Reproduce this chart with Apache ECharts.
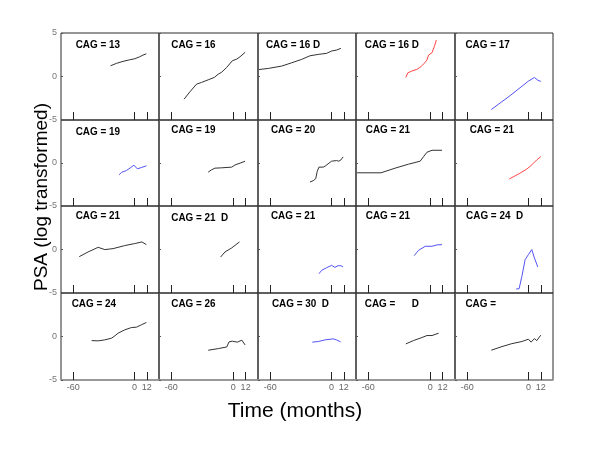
<!DOCTYPE html>
<html><head><meta charset="utf-8">
<script src="https://cdn.jsdelivr.net/npm/echarts@6/dist/echarts.min.js"></script>
<style>html,body{margin:0;padding:0;background:#fff}#c{width:600px;height:450px}</style>
</head><body><div id="c"></div>
<script>
// ---- data ----
const cagLabels = [
  'CAG = 13', 'CAG = 16', 'CAG = 16 D', 'CAG = 16 D', 'CAG = 17',
  'CAG = 19', 'CAG = 19', 'CAG = 20', 'CAG = 21', 'CAG = 21',
  'CAG = 21', 'CAG = 21  D', 'CAG = 21', 'CAG = 21', 'CAG = 24  D',
  'CAG = 24', 'CAG = 26', 'CAG = 30  D', 'CAG =      D', 'CAG ='
];
const xTicks = [-60, 0, 12];
const xRange = [-72, 24];
const yRange = [-5, 5];
const yStep = 5;

const p01 = [[-23.5,1.23],[-17.7,1.51],[-11.2,1.74],[-4.7,1.92],[0.2,2.04],[2.1,1.89],[5.1,2.27],[8.3,2.46],[11.6,2.61]];
const p02 = [[-47.7,-2.61],[-42.1,-1.77],[-35.6,-0.88],[-30.7,-0.68],[-24.3,-0.38],[-18.4,-0.11],[-14.5,0.27],[-11.2,0.5],[-6.3,1.05],[-0.9,1.81],[3.4,2.0],[6.6,2.27],[11.5,2.78]];
const p03 = [[-71,0.8],[-61.8,0.93],[-48.7,1.2],[-38.9,1.58],[-29.2,1.97],[-21.1,2.38],[-13,2.54],[-4.8,2.66],[0.1,2.93],[5,3.04],[9.2,3.24]];
const p04 = [[-23.7,-0.11],[-21.8,0.42],[-17.9,0.62],[-13,0.82],[-9.1,1.12],[-5.9,1.51],[-3.2,1.89],[-1.7,2.46],[1.7,2.73],[3.9,3.42],[5.9,4.19]];
const p05 = [[-36.5,-3.8],[-18,-2.2],[-0.1,-0.53],[5.8,-0.11],[9.1,-0.42],[12,-0.57]];
const p06 = [[-15.1,-1.37],[-12.8,-1.1],[-7.9,-0.87],[-3.7,-0.53],[-0.5,-0.25],[2.8,-0.68],[6.7,-0.53],[11.6,-0.33]];
const p07 = [[-24.3,-1.06],[-21,-0.79],[-17.8,-0.6],[-11.2,-0.56],[-1.5,-0.48],[1.8,-0.22],[6.6,-0.02],[11.5,0.21]];
const p08 = [[-21.1,-2.21],[-17.9,-2.06],[-15.5,-1.83],[-14,-0.99],[-12.3,-0.48],[-8.1,-0.48],[-5.8,-0.33],[-2.5,-0.02],[0.1,0.21],[5,0.28],[7.2,0.21],[9.2,0.36],[11.4,0.71]];
const p09 = [[-71,-1.14],[-47.8,-1.14],[-34.1,-0.6],[-21.2,-0.14],[-9.8,0.21],[-6.5,0.74],[-3.2,1.25],[1.7,1.48],[11.4,1.48]];
const p10 = [[-18.9,-1.86],[-9.9,-1.29],[-1.7,-0.71],[3.2,-0.22],[8.1,0.36],[12,0.74]];
const p11 = [[-54.1,-0.82],[-45.4,-0.28],[-35.6,0.25],[-29.1,-0.01],[-21,0.1],[-9.6,0.45],[0.2,0.68],[7.3,0.87],[11.6,0.56]];
const p12 = [[-12.2,-0.86],[-8,-0.28],[-1.5,0.18],[6,0.87]];
const p13 = [[-12.3,-2.78],[-9.7,-2.4],[-4.8,-2.09],[0.1,-1.82],[3.3,-2.05],[6.5,-1.86],[9.2,-1.86],[11.4,-2.01]];
const p14 = [[-15.6,-0.71],[-11.4,-0.1],[-4.9,0.37],[1.7,0.37],[6.5,0.53],[11.4,0.56]];
const p15 = [[-12.1,-4.54],[-9.2,-4.51],[-6.5,-3.09],[-3.3,-1.17],[-0.1,-0.59],[3.2,-0.01],[5.8,-0.97],[9.1,-2.01]];
const p16 = [[-42,-0.47],[-35.6,-0.5],[-29.1,-0.39],[-22.5,-0.19],[-19.3,0.07],[-16.1,0.38],[-9.6,0.76],[-3,1.03],[1.9,1.07],[6.7,1.34],[11.6,1.61]];
const p17 = [[-24.3,-1.58],[-14.5,-1.39],[-6.3,-1.2],[-4.1,-0.62],[-0.9,-0.54],[4,-0.65],[8.3,-0.42],[11.5,-0.97]];
const p18 = [[-18.8,-0.65],[-13,-0.58],[-6.4,-0.39],[1.7,-0.27],[5,-0.39],[8.9,-0.62]];
const p19 = [[-23.7,-0.85],[-16.3,-0.47],[-8.1,-0.12],[-3.2,0.11],[1.7,0.11],[8.1,0.38]];
const p20 = [[-36.5,-1.58],[-26,-1.16],[-16.3,-0.82],[-6.5,-0.58],[-0.1,-0.31],[2.5,-0.65],[5.8,-0.24],[8.1,-0.47],[12,0.15]];

const panelData = [p01,p02,p03,p04,p05,p06,p07,p08,p09,p10,p11,p12,p13,p14,p15,p16,p17,p18,p19,p20];

// ---- styles / layout ----
const K = '#333333', B = '#5252f7', R = '#ff4646';
const lineColors = [K,K,K,R,B, B,K,K,K,R, K,K,B,B,B, K,K,B,K,K];
const titleDx = [14.7,12.3,7.9,8.8,10.4, 14.7,12.3,12.9,9.8,14.7, 14.7,12.3,12.9,9.8,11.1, 10.7,12.3,13.9,8.8,10.4];
const titleDy = [11.7,11.7,11.7,11.7,11.7, 11.7,10,10,10,10, 10.3,11.7,10.3,10.3,10.3, 11.3,11.3,11.3,11.3,11.3];
const colEdges = [61, 159, 258, 356, 455, 553];
const rowEdges = [33, 120, 206, 293, 380];
const FONT = 'Arial, "Liberation Sans", sans-serif';

const grid = [], xAxis = [], yAxis = [], series = [], graphic = [];
for (let i = 0; i < 20; i++) {
  const r = Math.floor(i / 5), c = i % 5;
  const left = colEdges[c], top = rowEdges[r];
  const w = colEdges[c + 1] - left, h = rowEdges[r + 1] - top;
  grid.push({left: left, top: top, width: w, height: h, show: true,
    borderColor: '#2a2a2a', borderWidth: 1, backgroundColor: 'transparent'});
  xAxis.push({gridIndex: i, type: 'value', min: xRange[0], max: xRange[1], position: 'bottom',
    axisLine: {show: r === 3, onZero: false, lineStyle: {color: '#9a9a9a', width: 1.5}},
    splitLine: {show: false},
    axisTick: {show: true, inside: true, length: 8, customValues: xTicks, lineStyle: {color: '#222', width: 1}},
    axisLabel: {show: r === 3, customValues: xTicks, color: '#666', fontSize: 9, margin: 3, fontFamily: FONT}
  });
  yAxis.push({gridIndex: i, type: 'value', min: yRange[0], max: yRange[1], interval: yStep, position: 'left',
    axisLine: {show: false, onZero: false}, splitLine: {show: false},
    axisTick: {show: true, inside: true, length: 2, lineStyle: {color: '#555'}},
    axisLabel: {show: c === 0, color: '#777', fontSize: 9, margin: 4, fontFamily: FONT,
      showMaxLabel: r === 0, showMinLabel: true}
  });
  series.push({type: 'line', xAxisIndex: i, yAxisIndex: i, data: panelData[i],
    symbol: 'none', showSymbol: false, silent: true,
    lineStyle: {color: lineColors[i], width: 1}});
  graphic.push({type: 'text', x: left + titleDx[i], y: top + titleDy[i], scaleX: 0.9,
    style: {text: cagLabels[i], font: 'bold 11px ' + FONT, fill: '#000', align: 'left', verticalAlign: 'middle'}});
}
graphic.push({type: 'text', x: 42, y: 197, rotation: Math.PI / 2,
  style: {text: 'PSA (log transformed)', font: '19px ' + FONT, fill: '#000', align: 'center', verticalAlign: 'middle'}});
graphic.push({type: 'text', x: 295, y: 411,
  style: {text: 'Time (months)', font: '21px ' + FONT, fill: '#000', align: 'center', verticalAlign: 'middle'}});

const chart = echarts.init(document.getElementById('c'), null, {renderer: 'canvas'});
chart.setOption({animation: false, backgroundColor: '#fff', grid, xAxis, yAxis, series, graphic});
</script>
</body></html>
